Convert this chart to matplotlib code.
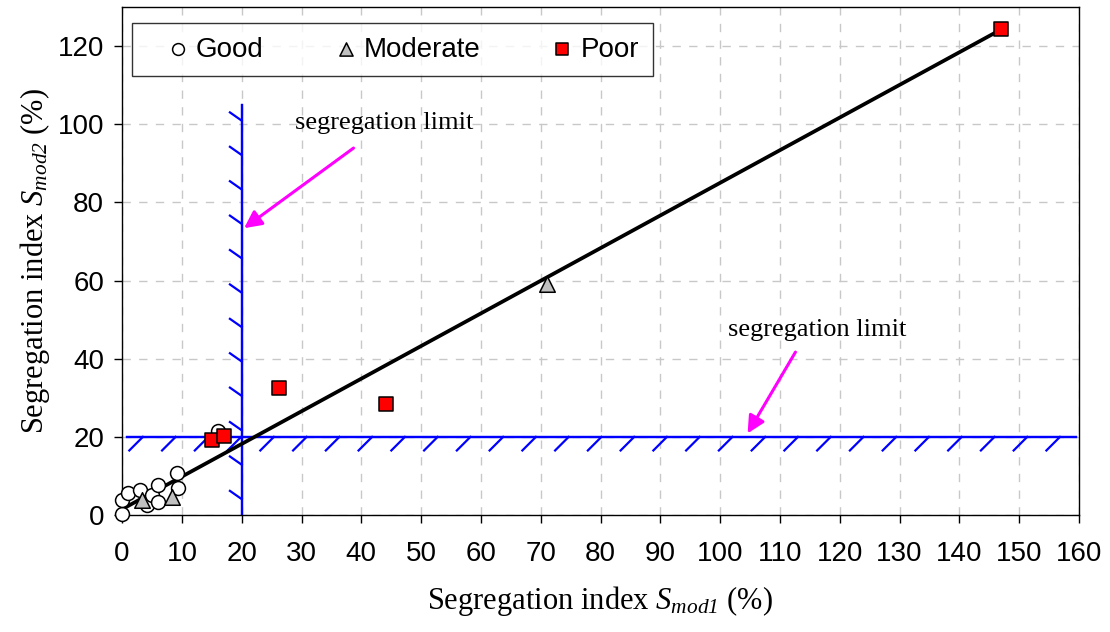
import numpy as np
import matplotlib.pyplot as plt
import matplotlib.patheffects as pe

plt.rcParams["font.family"] = "Liberation Sans"
plt.rcParams["mathtext.fontset"] = "custom"
plt.rcParams["mathtext.rm"] = "Liberation Serif"
plt.rcParams["mathtext.it"] = "Liberation Serif:italic"
plt.rcParams["mathtext.sf"] = "Liberation Serif:italic"

# Data
good_x = [0.0, 0.0, 1.0, 3.0, 4.1, 5.0, 6.0, 6.0, 9.2, 9.4, 16.0]
good_y = [0.4, 3.8, 5.6, 6.4, 2.6, 5.1, 7.7, 3.4, 10.7, 6.9, 21.5]

moderate_x = [3.3, 8.3, 71.0]
moderate_y = [3.8, 4.5, 59.0]

poor_x = [15.0, 17.0, 26.3, 44.2, 147.0]
poor_y = [19.2, 20.2, 32.5, 28.4, 124.3]

# fitted line y = a*x + b
fit_slope = 0.835
fit_intercept = 1.5
fit_range = [0.5, 147.0]

seg_limit = 20
vline_top = 105
hline_range = [0.8, 159.5]

x_ticks = np.arange(0, 161, 10)
y_ticks = np.arange(0, 121, 20)

fig = plt.figure(figsize=(11.1, 6.32), dpi=100)
ax = fig.add_axes([0.110, 0.185, 0.862, 0.804])

ax.set_xlim(0, 160)
ax.set_ylim(0, 130)
ax.set_xticks(x_ticks)
ax.set_yticks(y_ticks)
ax.grid(True, linestyle=(0, (6, 6)), color="#c8c8c8", linewidth=1.0)
ax.set_axisbelow(True)
ax.tick_params(direction="out", length=6, width=1, labelsize=20, pad=7)
ax.tick_params(axis="x", pad=13)
for s in ax.spines.values():
    s.set_linewidth(1.0)

# segregation limits with hatch ticks
ax.plot([seg_limit, seg_limit], [0, vline_top], color="#0000ff", lw=1.6,
        path_effects=[pe.withTickedStroke(angle=55, spacing=23, length=0.45),
                      pe.Normal()], zorder=2)
ax.plot(hline_range, [seg_limit, seg_limit], color="#0000ff", lw=1.6,
        path_effects=[pe.withTickedStroke(angle=-135, spacing=23, length=0.6),
                      pe.Normal()], zorder=2)

# regression line
fx = np.array(fit_range)
ax.plot(fx, fit_slope * fx + fit_intercept, color="black", lw=2.7, zorder=3)

# points
ax.scatter(good_x, good_y, s=100, marker="o", facecolor="white",
           edgecolor="black", linewidth=1.1, zorder=4, clip_on=False, label="Good")
ax.scatter(moderate_x, moderate_y, s=125, marker="^", facecolor="#c0c0c0",
           edgecolor="black", linewidth=1.1, zorder=4, clip_on=False, label="Moderate")
ax.scatter(poor_x, poor_y, s=100, marker="s", facecolor="#ff0000",
           edgecolor="black", linewidth=1.1, zorder=5, clip_on=False, label="Poor")

# annotations
ax.annotate("", xy=(20.4, 73.4), xytext=(38.7, 93.9),
            arrowprops=dict(arrowstyle="-|>", color="#ff00ff", lw=2.2,
                            mutation_scale=26, shrinkA=0, shrinkB=0))
ax.text(43.9, 100.3, "segregation limit", family="Liberation Serif",
        fontsize=19, ha="center", va="center")
ax.annotate("", xy=(104.6, 20.9), xytext=(112.6, 41.7),
            arrowprops=dict(arrowstyle="-|>", color="#ff00ff", lw=2.2,
                            mutation_scale=26, shrinkA=0, shrinkB=0))
ax.text(116.3, 47.3, "segregation limit", family="Liberation Serif",
        fontsize=19, ha="center", va="center")

ax.set_xlabel("Segregation index $S_{\\mathsf{mod1}}$ (%)", family="Liberation Serif",
              fontsize=22, labelpad=12)
ax.set_ylabel("Segregation index $S_{\\mathsf{mod2}}$ (%)", family="Liberation Serif",
              fontsize=22, labelpad=4)

leg = ax.legend(loc="upper left", bbox_to_anchor=(0.0105, 0.969), borderaxespad=0,
                ncol=3, fontsize=20, frameon=True, fancybox=False, markerscale=0.85,
                handletextpad=-0.5, columnspacing=1.8, handlelength=2.3,
                borderpad=0.5)
leg.get_frame().set_edgecolor("black")
leg.get_frame().set_linewidth(1.0)

fig.savefig("out.png", dpi=100)
